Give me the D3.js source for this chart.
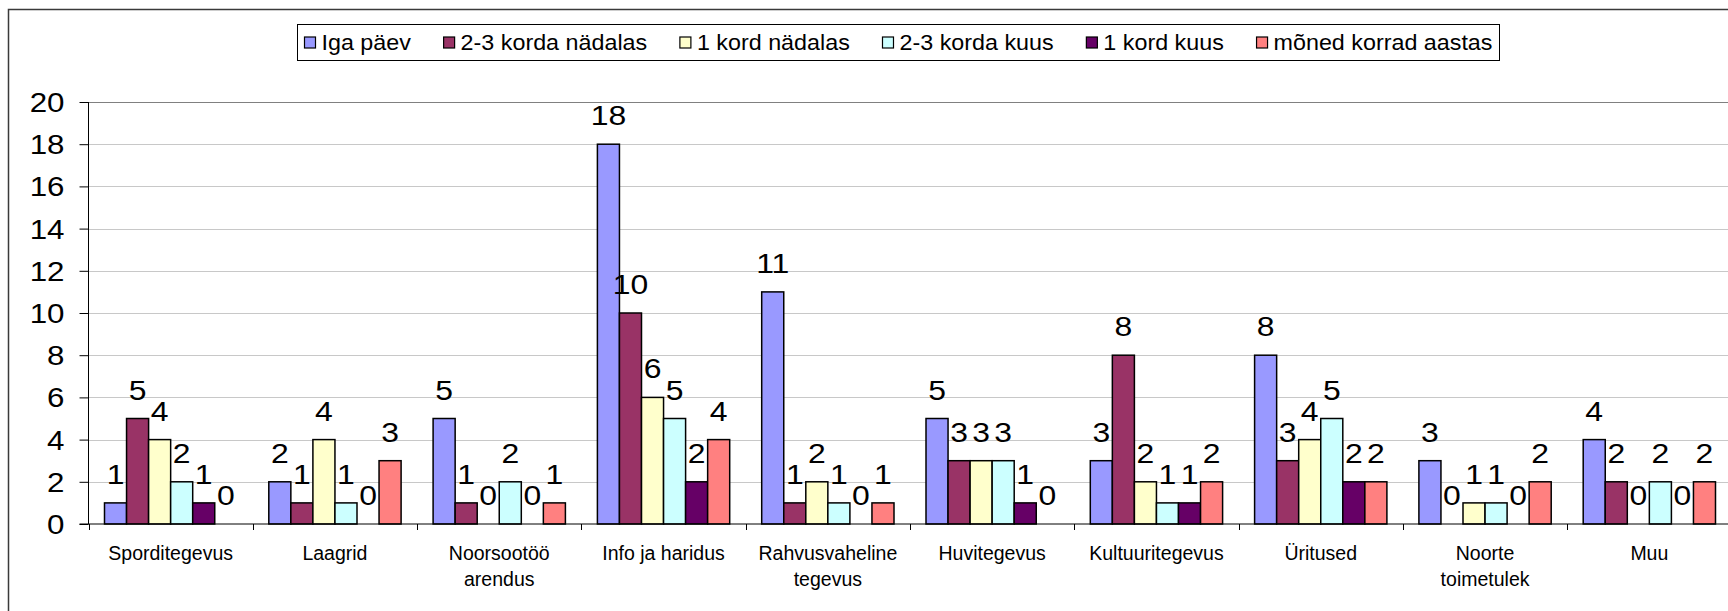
<!DOCTYPE html>
<html>
<head>
<meta charset="utf-8">
<title>Tegevused</title>
<script src="https://cdn.jsdelivr.net/npm/d3@7"></script>
<style>
    body { margin: 0; background: #fff; }
    svg text { font-family: "Liberation Sans", Arial, sans-serif; fill: #000; }
</style>
</head>
<body>
<div id="chart"></div>
<script>
    const width = 1728, height = 611;

    const categories = ["Sporditegevus", "Laagrid", "Noorsootöö arendus", "Info ja haridus",
        "Rahvusvaheline tegevus", "Huvitegevus", "Kultuuritegevus", "Üritused", "Noorte toimetulek", "Muu"];
    // how the category names break onto two lines
    const catLines = [["Sporditegevus"], ["Laagrid"], ["Noorsootöö", "arendus"], ["Info ja haridus"],
        ["Rahvusvaheline", "tegevus"], ["Huvitegevus"], ["Kultuuritegevus"], ["Üritused"], ["Noorte", "toimetulek"], ["Muu"]];

    const seriesNames = ["Iga päev", "2-3 korda nädalas", "1 kord nädalas", "2-3 korda kuus", "1 kord kuus", "mõned korrad aastas"];
    const colors = ["#9999ff", "#993366", "#ffffcc", "#ccffff", "#660066", "#ff8080"];

    const igaPaev = [1, 2, 5, 18, 11, 5, 3, 8, 3, 4];
    const korda23Nadalas = [5, 1, 1, 10, 1, 3, 8, 3, 0, 2];
    const kord1Nadalas = [4, 4, 0, 6, 2, 3, 2, 4, 1, 0];
    const korda23Kuus = [2, 1, 2, 5, 1, 3, 1, 5, 1, 2];
    const kord1Kuus = [1, 0, 0, 2, 0, 1, 1, 2, 0, 0];
    const monedAastas = [0, 3, 1, 4, 1, 0, 2, 2, 2, 2];
    const seriesValues = [igaPaev, korda23Nadalas, kord1Nadalas, korda23Kuus, kord1Kuus, monedAastas];

    const yTicks = [0, 2, 4, 6, 8, 10, 12, 14, 16, 18, 20];

    // the picture's numbers are a bit wider than plain Arial
    function place(sel, x, y, sx) {
        return sel.attr("transform", "translate(" + x + "," + y + ") scale(" + (sx || 1) + ",1)");
    }

    const svg = d3.select("#chart").append("svg")
        .attr("width", width)
        .attr("height", height);

    // outer frame (runs off the right and bottom edge)
    svg.append("rect")
        .attr("x", 8.5).attr("y", 9.5)
        .attr("width", 1800).attr("height", 700)
        .attr("fill", "none")
        .attr("stroke", "#3a3a3a")
        .attr("stroke-width", 1.5);

    const plotLeft = 88.5, band = 164.3;
    const x0 = d3.scaleBand()
        .domain(categories)
        .range([plotLeft, plotLeft + band * categories.length]);
    const x1 = d3.scaleBand()
        .domain(seriesNames)
        .range([16, band - 16]);
    const y = d3.scaleLinear()
        .domain([0, 20])
        .range([524, 102]);

    // gridlines
    svg.append("g")
        .selectAll("line")
        .data(yTicks.filter(d => d > 0))
        .join("line")
        .attr("x1", plotLeft).attr("x2", width)
        .attr("y1", d => Math.round(y(d)) + 0.5)
        .attr("y2", d => Math.round(y(d)) + 0.5)
        .attr("stroke", d => d == 20 ? "#808080" : "#c8c8c8")
        .attr("stroke-width", 1);

    // y axis
    const yAxis = svg.append("g")
        .attr("transform", "translate(" + plotLeft + ",0)")
        .call(d3.axisLeft(y).tickValues(yTicks).tickSize(9).tickPadding(0).tickFormat(d3.format("d")));
    yAxis.select(".domain").attr("stroke", "#000").attr("d", "M0," + y(20) + "V" + y(0));
    yAxis.selectAll(".tick line").attr("stroke", "#000");
    yAxis.selectAll(".tick text").remove();
    yAxis.selectAll(".tick").append("text")
        .attr("text-anchor", "end")
        .attr("font-size", "27px")
        .each(function () { place(d3.select(this), -24, 9.5, 1.16); })
        .text(d => d);

    // bars
    const groups = svg.append("g")
        .selectAll("g")
        .data(categories)
        .join("g")
        .attr("transform", d => "translate(" + x0(d) + ",0)");

    const barData = (c, ci) => seriesNames.map((s, si) => ({ s: s, si: si, v: seriesValues[si][ci] }));

    groups.selectAll("rect")
        .data(barData)
        .join("rect")
        .filter(d => d.v > 0)
        .attr("x", d => x1(d.s))
        .attr("y", d => y(d.v))
        .attr("width", x1.bandwidth())
        .attr("height", d => y(0) - y(d.v))
        .attr("fill", d => colors[d.si])
        .attr("stroke", "#000")
        .attr("stroke-width", 1.5);

    // value labels
    groups.selectAll("text.val")
        .data(barData)
        .join("text")
        .attr("class", "val")
        .attr("text-anchor", "middle")
        .attr("font-size", "28px")
        .each(function (d) {
            place(d3.select(this), x1(d.s) + x1.bandwidth() / 2, y(d.v) - 19, 1.14);
        })
        .text(d => d.v);

    // x axis
    const xAxisG = svg.append("g");
    xAxisG.append("line")
        .attr("x1", plotLeft - 9).attr("x2", width)
        .attr("y1", y(0)).attr("y2", y(0))
        .attr("stroke", "#000");
    xAxisG.selectAll("line.tk")
        .data(d3.range(categories.length + 1))
        .join("line")
        .attr("class", "tk")
        .attr("x1", i => Math.round(plotLeft + i * band) + 0.5)
        .attr("x2", i => Math.round(plotLeft + i * band) + 0.5)
        .attr("y1", y(0)).attr("y2", y(0) + 6)
        .attr("stroke", "#000");

    const catText = svg.append("g")
        .selectAll("text")
        .data(categories)
        .join("text")
        .attr("text-anchor", "middle")
        .attr("font-size", "19.5px")
        .each(function (d) { place(d3.select(this), x0(d) + band / 2, 560); });
    catText.selectAll("tspan")
        .data((d, i) => catLines[i])
        .join("tspan")
        .attr("x", 0)
        .attr("dy", (d, i) => i == 0 ? 0 : 26)
        .text(d => d);

    // legend
    const lg = { x: 297.5, y: 24.5, w: 1202, h: 36 };
    const legend = svg.append("g");
    legend.append("rect")
        .attr("x", lg.x).attr("y", lg.y)
        .attr("width", lg.w).attr("height", lg.h)
        .attr("fill", "#fff")
        .attr("stroke", "#000")
        .attr("stroke-width", 1);

    const lsx = 1.06;
    const items = legend.selectAll("g")
        .data(seriesNames)
        .join("g");
    items.append("rect")
        .attr("width", 11).attr("height", 11)
        .attr("fill", (d, i) => colors[i])
        .attr("stroke", "#000")
        .attr("stroke-width", 1.2);
    items.append("text")
        .attr("font-size", "22px")
        .each(function () { place(d3.select(this), 17, 13, lsx); })
        .text(d => d);

    // spread the items across the legend box
    const widths = [];
    items.each(function () {
        widths.push(17 + d3.select(this).select("text").node().getComputedTextLength() * lsx);
    });
    const pad = 7;
    const gap = (lg.w - 2 * pad - d3.sum(widths)) / (widths.length - 1);
    let cx = lg.x + pad;
    items.attr("transform", (d, i) => {
        const t = "translate(" + cx + "," + (lg.y + lg.h / 2 - 5.5) + ")";
        cx += widths[i] + gap;
        return t;
    });
</script>
</body>
</html>
